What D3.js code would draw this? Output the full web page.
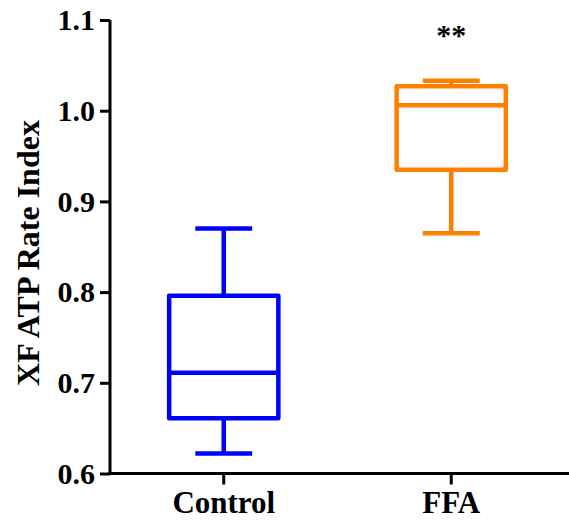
<!DOCTYPE html>
<html>
<head>
<meta charset="utf-8">
<script src="https://cdn.jsdelivr.net/npm/d3@7/dist/d3.min.js"></script>
<style>
  body { margin: 0; background: #fff; }
  svg { display: block; }
  text { font-family: "Liberation Serif", "Times New Roman", serif; font-weight: bold; }
</style>
</head>
<body>
<svg id="chart" width="569" height="525"></svg>
<script>
// Box-plot summaries (min, Q1, median, Q3, max) per group
const groups = ["Control", "FFA"];
const mins    = [0.622, 0.865];
const q1s     = [0.661, 0.935];
const medians = [0.711, 1.006];
const q3s     = [0.796, 1.027];
const maxs    = [0.870, 1.033];
const colors  = ["#0000ff", "#ff8000"];
const yTicks  = [0.6, 0.7, 0.8, 0.9, 1.0, 1.1];
const significance = ["", "**"];

const svg = d3.select("#chart");
const plotLeft = 110, plotRight = 565, plotTop = 20, plotBottom = 473.5;

const x = d3.scaleBand().domain(groups).range([plotLeft, plotRight]);
const y = d3.scaleLinear().domain([0.6, 1.1]).range([plotBottom, plotTop]);

const boxW = x.bandwidth() * 0.48;
const capW = x.bandwidth() * 0.25;

const data = groups.map((g, i) => ({
  g, min: mins[i], q1: q1s[i], med: medians[i], q3: q3s[i], max: maxs[i],
  color: colors[i], sig: significance[i]
}));

const gBox = svg.append("g");
data.forEach(d => {
  const cx = x(d.g) + x.bandwidth() / 2;
  const grp = gBox.append("g")
    .attr("stroke", d.color).attr("stroke-width", 4.5).attr("fill", "none");
  // whiskers
  grp.append("line").attr("x1", cx).attr("x2", cx).attr("y1", y(d.max)).attr("y2", y(d.q3));
  grp.append("line").attr("x1", cx).attr("x2", cx).attr("y1", y(d.q1)).attr("y2", y(d.min));
  // caps
  grp.append("line").attr("x1", cx - capW / 2).attr("x2", cx + capW / 2)
    .attr("y1", y(d.max)).attr("y2", y(d.max));
  grp.append("line").attr("x1", cx - capW / 2).attr("x2", cx + capW / 2)
    .attr("y1", y(d.min)).attr("y2", y(d.min));
  // box
  grp.append("rect").attr("x", cx - boxW / 2).attr("width", boxW)
    .attr("y", y(d.q3)).attr("height", y(d.q1) - y(d.q3))
    .attr("stroke-linejoin", "round").attr("fill", "#fff");
  // median
  grp.append("line").attr("x1", cx - boxW / 2).attr("x2", cx + boxW / 2)
    .attr("y1", y(d.med)).attr("y2", y(d.med));
  // significance mark
  if (d.sig) {
    svg.append("text").attr("x", cx).attr("y", 45)
      .attr("text-anchor", "middle").attr("font-size", 30).attr("fill", "#000")
      .text(d.sig);
  }
});

// y axis
const yAxis = svg.append("g").attr("transform", `translate(${plotLeft},0)`)
  .call(d3.axisLeft(y).tickValues(yTicks).tickFormat(d3.format(".1f")).tickSizeOuter(0).tickSize(10).tickPadding(5));
yAxis.select(".domain").attr("stroke", "#000").attr("stroke-width", 3)
  .attr("d", `M0,${plotTop}V${plotBottom}`);
yAxis.selectAll(".tick line").attr("stroke", "#000").attr("stroke-width", 3);
yAxis.selectAll(".tick text").attr("font-size", 30).attr("fill", "#000")
  .attr("font-family", "Liberation Serif, Times New Roman, serif").attr("font-weight", "bold");

// x axis
const xAxis = svg.append("g").attr("transform", `translate(0,${plotBottom})`)
  .call(d3.axisBottom(x).tickSizeOuter(0).tickSize(11).tickPadding(6));
xAxis.select(".domain").attr("stroke", "#000").attr("stroke-width", 3)
  .attr("d", `M${plotLeft - 1.5},0H569`);
xAxis.selectAll(".tick line").attr("stroke", "#000").attr("stroke-width", 3);
xAxis.selectAll(".tick text").attr("font-size", 31).attr("fill", "#000")
  .attr("font-family", "Liberation Serif, Times New Roman, serif").attr("font-weight", "bold");

// y axis title
svg.append("text")
  .attr("transform", `translate(39,${(113 + 393) / 2}) rotate(-90)`)
  .attr("text-anchor", "middle").attr("font-size", 32).attr("fill", "#000")
  .text("XF ATP Rate Index");
</script>
</body>
</html>
